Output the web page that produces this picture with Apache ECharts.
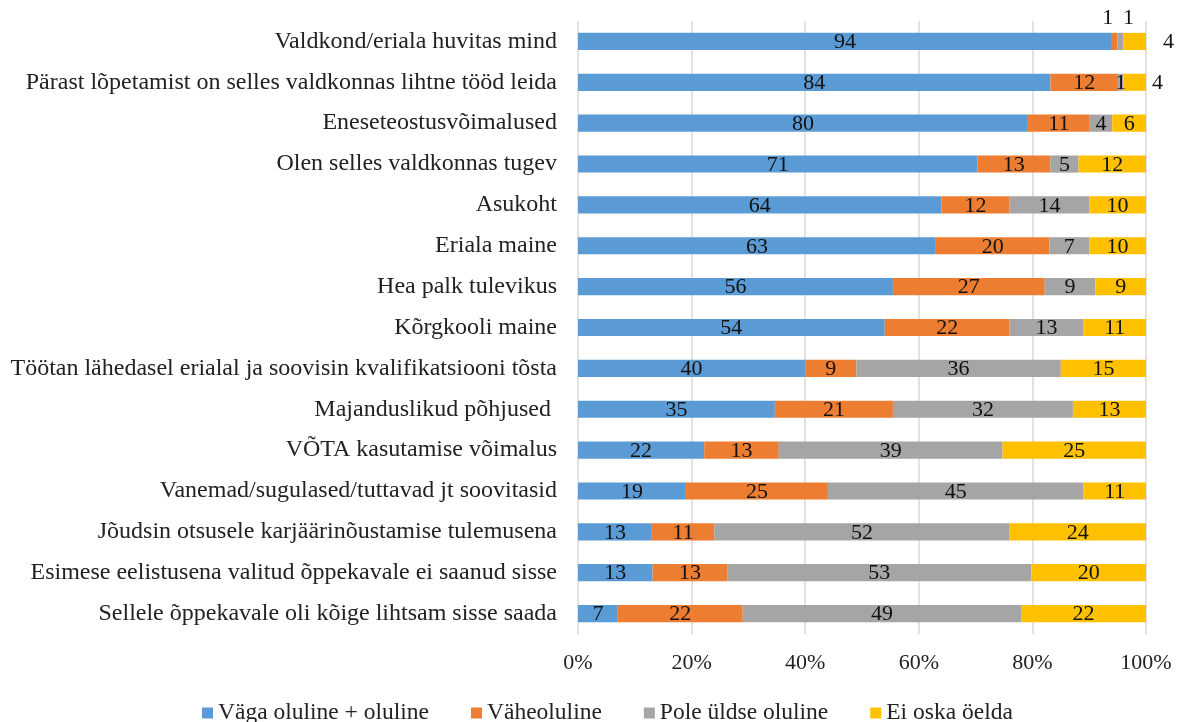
<!DOCTYPE html>
<html><head><meta charset="utf-8">
<script src="https://cdn.jsdelivr.net/npm/echarts@6/dist/echarts.min.js"></script>
<style>html,body{margin:0;padding:0;background:#fff}#c{width:1180px;height:722px}</style>
</head><body><div id="c"></div>
<script>
const categories = [
  "Valdkond/eriala huvitas mind",
  "Pärast lõpetamist on selles valdkonnas lihtne tööd leida",
  "Eneseteostusvõimalused",
  "Olen selles valdkonnas tugev",
  "Asukoht",
  "Eriala maine",
  "Hea palk tulevikus",
  "Kõrgkooli maine",
  "Töötan lähedasel erialal ja soovisin kvalifikatsiooni tõsta",
  "Majanduslikud põhjused ",
  "VÕTA kasutamise võimalus",
  "Vanemad/sugulased/tuttavad jt soovitasid",
  "Jõudsin otsusele karjäärinõustamise tulemusena",
  "Esimese eelistusena valitud õppekavale ei saanud sisse",
  "Sellele õppekavale oli kõige lihtsam sisse saada"
];
const seriesNames = ["Väga oluline + oluline", "Väheoluline", "Pole üldse oluline", "Ei oska öelda"];
const vagaOluline = [94, 84, 80, 71, 64, 63, 56, 54, 40, 35, 22, 19, 13, 13, 7];
const vaheoluline = [1, 12, 11, 13, 12, 20, 27, 22, 9, 21, 13, 25, 11, 13, 22];
const poleOluline = [1, 1, 4, 5, 14, 7, 9, 13, 36, 32, 39, 45, 52, 53, 49];
const eiOska = [4, 4, 6, 12, 10, 10, 9, 11, 15, 13, 25, 11, 24, 20, 22];
const xTicks = [0, 20, 40, 60, 80, 100];

const colors = ["#5B9BD5", "#ED7D31", "#A5A5A5", "#FFC000"];
const raw = [vagaOluline, vaheoluline, poleOluline, eiOska];
const sums = categories.map((_, i) => raw.reduce((s, a) => s + a[i], 0));

// label placement overrides for tiny segments (series index - row index)
const labelOverrides = {
  "1-0": {position: "top", distance: 4, offset: [-7, 0]},
  "2-0": {position: "top", distance: 4, offset: [8, 0]},
  "3-0": {position: "right", distance: 17},
  "3-1": {position: "right", distance: 6}
};

const font = "Liberation Serif";
const chart = echarts.init(document.getElementById("c"));
chart.setOption({
  animation: false,
  grid: {left: 578, right: 34, top: 21, bottom: 88, containLabel: false},
  legend: {
    top: 696, left: 197, itemWidth: 11, itemHeight: 11, itemGap: 42, icon: 'rect',
    textStyle: {fontFamily: font, fontSize: 23.5, color: "#222", padding: [0, 0, 0, 0]},
    data: seriesNames
  },
  xAxis: {
    type: 'value', min: 0, max: 100, interval: 20,
    axisLabel: {formatter: v => xTicks.includes(v) ? v + '%' : '', fontFamily: font, fontSize: 22, color: "#222", margin: 18},
    splitLine: {show: true, lineStyle: {color: "#D9D9D9", width: 1.5}},
    axisLine: {show: false}, axisTick: {show: false}
  },
  yAxis: {
    type: 'category', data: categories, inverse: true,
    axisLine: {show: false}, axisTick: {show: false},
    axisLabel: {fontFamily: font, fontSize: 24, color: "#222", margin: 21}
  },
  series: raw.map((arr, si) => ({
    name: seriesNames[si], type: 'bar', stack: 'total', barWidth: '42%',
    itemStyle: {color: colors[si]},
    label: {show: true, position: 'inside', fontFamily: font, fontSize: 22, color: "#111",
      offset: [0, 1],
      formatter: p => String(arr[p.dataIndex])},
    data: arr.map((v, i) => {
      const item = {value: v / sums[i] * 100};
      const o = labelOverrides[si + "-" + i];
      if (o) item.label = Object.assign({show: true}, o);
      return item;
    })
  }))
});
</script></body></html>
